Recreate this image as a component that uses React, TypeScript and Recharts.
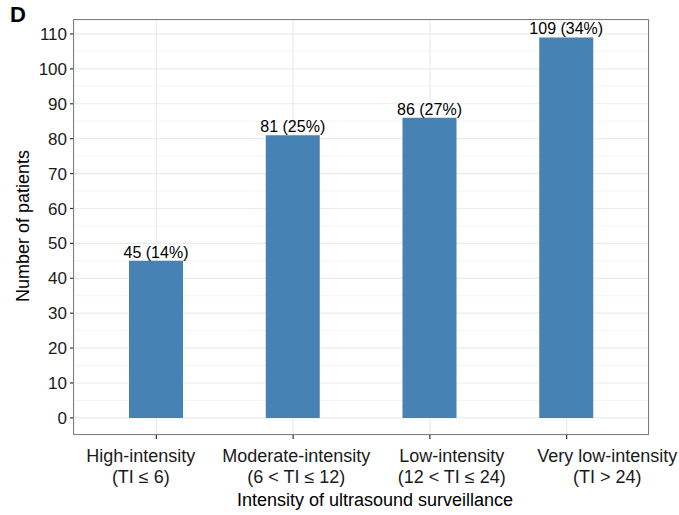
import { BarChart, Bar, XAxis, YAxis, CartesianGrid, LabelList } from "recharts";

const categories = ["High-intensity", "Moderate-intensity", "Low-intensity", "Very low-intensity"];
const ranges = ["(TI \u2264 6)", "(6 < TI \u2264 12)", "(12 < TI \u2264 24)", "(TI > 24)"];
const patients = [45, 81, 86, 109];
const shares = [14, 25, 27, 34];
const majorTicks = [0, 10, 20, 30, 40, 50, 60, 70, 80, 90, 100, 110];
const minorTicks = [5, 15, 25, 35, 45, 55, 65, 75, 85, 95, 105];

const data = categories.map((c, i) => ({
  name: c,
  range: ranges[i],
  patients: patients[i],
  label: `${patients[i]} (${shares[i]}%)`,
}));

const FONT = "'Liberation Sans', Arial, Helvetica, sans-serif";

// the tick labels in the figure sit a little wider apart than the bars
const CategoryTick = ({ x, y, payload }: { x?: number; y?: number; payload?: { value: string; index: number } }) => {
  const i = payload ? payload.index : 0;
  const cx = (x ?? 0) + 12.5 + 18.7 * (i - 1.5);
  return (
    <text x={cx} y={y} textAnchor="middle" fontSize={18} fill="#1a1a1a" fontFamily={FONT}>
      <tspan x={cx} dy={21}>{categories[i]}</tspan>
      <tspan x={cx} dy={21}>{ranges[i]}</tspan>
    </text>
  );
};

const BarLabel = (props: any) => {
  const { x, y, width, value } = props;
  return (
    <text x={x + width / 2} y={y - 3} textAnchor="middle" fontSize={16} fill="#000" fontFamily={FONT}>
      {value}
    </text>
  );
};

export default function App() {
  return (
    <div
      style={{
        position: "absolute",
        left: 0,
        top: 0,
        width: 679,
        height: 515,
        background: "#fff",
        fontFamily: FONT,
      }}
    >
      <BarChart
        width={679}
        height={515}
        data={data}
        margin={{ top: 20, right: 30, bottom: 10, left: 14 }}
      >
        <CartesianGrid horizontalValues={minorTicks} vertical={false} stroke="#f4f4f4" strokeWidth={1} />
        <CartesianGrid stroke="#ebebeb" strokeWidth={1.2} />
        <XAxis
          dataKey="name"
          height={70}
          padding={{ left: 14, right: 14 }}
          axisLine={false}
          tickLine={{ stroke: "#333", strokeWidth: 1.2 }}
          tickSize={4}
          tickMargin={2}
          tick={<CategoryTick />}
          interval={0}
        />
        <YAxis
          width={60}
          domain={[-4.9, 114]}
          ticks={majorTicks}
          allowDataOverflow
          axisLine={false}
          tickLine={{ stroke: "#333", strokeWidth: 1.2 }}
          tickSize={4}
          tickMargin={3}
          tick={{ fontSize: 17, fill: "#1a1a1a", fontFamily: FONT }}
        />
        <Bar dataKey="patients" fill="#4682b4" barSize={54} isAnimationActive={false}>
          <LabelList dataKey="label" content={<BarLabel />} />
        </Bar>
      </BarChart>
      {/* panel border */}
      <div
        style={{
          position: "absolute",
          left: 73,
          top: 19,
          width: 576,
          height: 416,
          border: "1.5px solid #7f7f7f",
          boxSizing: "border-box",
          pointerEvents: "none",
        }}
      />
      <div style={{ position: "absolute", left: 10, top: 2, fontSize: 22, fontWeight: "bold", color: "#000" }}>D</div>
      <div
        style={{
          position: "absolute",
          left: 23,
          top: 226,
          fontSize: 18,
          color: "#000",
          whiteSpace: "nowrap",
          transform: "translate(-50%, -50%) rotate(-90deg)",
        }}
      >
        Number of patients
      </div>
      <div
        style={{
          position: "absolute",
          left: 375,
          top: 500,
          fontSize: 18,
          color: "#000",
          whiteSpace: "nowrap",
          transform: "translate(-50%, -50%)",
        }}
      >
        Intensity of ultrasound surveillance
      </div>
    </div>
  );
}
